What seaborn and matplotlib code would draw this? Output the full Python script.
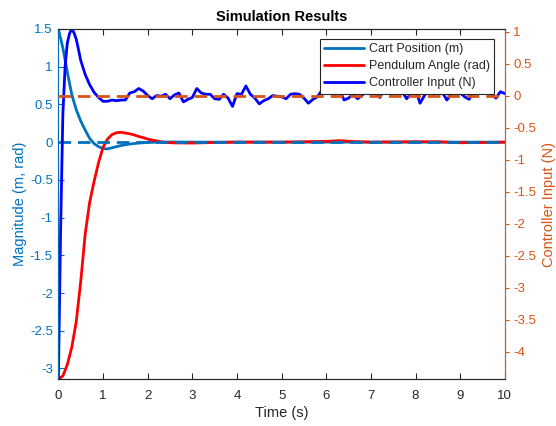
import matplotlib
matplotlib.use("Agg")
import matplotlib.pyplot as plt
import seaborn as sns
import numpy as np
import pandas as pd
from matplotlib.ticker import FuncFormatter

# ---------------- data ----------------
t_cart = [0, 0.1, 0.2, 0.3, 0.4, 0.5, 0.6, 0.7, 0.8, 0.9, 1.0, 1.1, 1.2, 1.3, 1.4,
          1.5, 1.6, 1.8, 2.0, 2.2, 2.5, 3.0, 4.0, 5.0, 6.0, 7.0, 8.0, 9.0, 10.0]
cart_pos = [1.5, 1.25, 0.93, 0.63, 0.43, 0.28, 0.16, 0.05, -0.02, -0.06, -0.085, -0.09,
            -0.075, -0.06, -0.045, -0.035, -0.025, -0.012, -0.005, 0.0, 0.002, 0.0, 0.0,
            0.0, 0.0, 0.0, 0.0, 0.0, 0.0]

t_pend = [0, 0.1, 0.2, 0.3, 0.4, 0.5, 0.6, 0.7, 0.8, 0.9, 1.0, 1.1, 1.2, 1.3, 1.4, 1.5,
          1.6, 1.7, 1.8, 1.9, 2.0, 2.2, 2.4, 2.6, 3.0, 3.5, 4.0, 5.0, 5.5, 6.0, 6.3, 6.6,
          7.0, 8.0, 8.5, 9.0, 9.5, 10.0]
pend_angle = [-3.14, -3.1, -2.95, -2.72, -2.38, -1.85, -1.22, -0.8, -0.52, -0.27, -0.07,
              0.04, 0.1, 0.125, 0.13, 0.12, 0.11, 0.095, 0.075, 0.06, 0.04, 0.015, -0.005,
              -0.01, -0.012, -0.005, 0.0, 0.0, 0.005, 0.01, 0.02, 0.008, 0.0, 0.005, 0.005,
              -0.008, -0.005, 0.0]

t_ctrl = [0, 0.05, 0.1, 0.15, 0.2, 0.25, 0.3, 0.35, 0.4, 0.45,
          0.5, 0.6, 0.7, 0.8, 0.9, 1.0, 1.1, 1.2, 1.3, 1.4, 1.5, 1.6, 1.7, 1.8, 1.9,
          2.0, 2.1, 2.2, 2.3, 2.4, 2.5, 2.6, 2.7, 2.8, 2.9, 3.0, 3.1, 3.2, 3.3, 3.4,
          3.5, 3.6, 3.7, 3.8, 3.9, 4.0, 4.1, 4.2, 4.3, 4.4, 4.5, 4.6, 4.7, 4.8, 4.9,
          5.0, 5.1, 5.2, 5.3, 5.4, 5.5, 5.6, 5.7, 5.8, 5.9, 6.0, 6.1, 6.2, 6.3, 6.4,
          6.5, 6.6, 6.7, 6.8, 6.9, 7.0, 7.1, 7.2, 7.3, 7.4, 7.5, 7.6, 7.7, 7.8, 7.9,
          8.0, 8.1, 8.2, 8.3, 8.4, 8.5, 8.6, 8.7, 8.8, 8.9, 9.0, 9.1, 9.2, 9.3, 9.4,
          9.5, 9.6, 9.7, 9.8, 9.9, 10.0]
ctrl_input = [-4.43, -2.1, -0.3, 0.45, 0.82, 0.97, 1.04, 0.98, 0.88, 0.72,
              0.55, 0.33, 0.17, 0.05, -0.03, -0.09, -0.09, -0.07, -0.08, -0.07, -0.07,
              0.04, 0.06, 0.11, 0.07,
              0.0, -0.05, 0.0, -0.01, 0.02, -0.05, 0.01, 0.04, -0.1, -0.06,
              -0.03, 0.11, 0.04, 0.02, 0.02, -0.05, -0.06, 0.02, -0.04, -0.17,
              0.03, 0.02, 0.15, 0.02, -0.04, -0.13, -0.08, -0.05, 0.0, -0.01,
              -0.02, -0.05, 0.02, 0.03, 0.02, -0.04, -0.12, -0.06, -0.02, 0.08,
              0.15, 0.12, 0.02, 0.08, -0.07, -0.04, 0.02, -0.05, 0.0, 0.08,
              0.02, 0.05, -0.03, 0.1, 0.05, 0.12, 0.04, 0.06, -0.05, 0.03,
              0.09, -0.12, 0.0, 0.1, 0.02, 0.08, 0.05, -0.07, 0.02, 0.1,
              0.04, -0.02, -0.06, 0.08, 0.03, 0.05, 0.09, 0.02, -0.04, 0.06, 0.03]

x_ticks = list(range(0, 11))
left_ticks = [-3, -2.5, -2, -1.5, -1, -0.5, 0, 0.5, 1, 1.5]
right_ticks = [-4, -3.5, -3, -2.5, -2, -1.5, -1, -0.5, 0, 0.5, 1]

# ---------------- style ----------------
sns.set_style("white")
plt.rcParams['font.family'] = ['Liberation Sans', 'DejaVu Sans']
plt.rcParams['axes.unicode_minus'] = False

C_LEFT = '#0072BD'
C_RIGHT = '#D95319'
C_TXT = '#262626'

fig = plt.figure(figsize=(5.56, 4.26), dpi=100)
ax = fig.add_axes([0.105, 0.110, 0.803, 0.822])
ax2 = ax.twinx()

df_cart = pd.DataFrame({'t': t_cart, 'v': cart_pos})
df_pend = pd.DataFrame({'t': t_pend, 'v': pend_angle})
df_ctrl = pd.DataFrame({'t': t_ctrl, 'v': ctrl_input})

sns.lineplot(data=df_cart, x='t', y='v', ax=ax, color=C_LEFT, lw=2, legend=False,
             zorder=2)
sns.lineplot(data=df_pend, x='t', y='v', ax=ax, color='#FF0000', lw=2, legend=False,
             zorder=3)
ax.axhline(0, color=C_LEFT, lw=2, ls=(0, (4.5, 2.5)), zorder=4)

sns.lineplot(data=df_ctrl, x='t', y='v', ax=ax2, color='#0000FF', lw=2, legend=False,
             zorder=2)
ax2.axhline(0, color=C_RIGHT, lw=2, ls=(0, (4.5, 2.5)), zorder=3)

ax.set_xlim(0, 10)
ax.set_ylim(-np.pi, 1.5)
ax2.set_ylim(-4.43, 1.04)

fmt = FuncFormatter(lambda v, p: f"{v:g}")
ax.set_xticks(x_ticks)
ax.set_yticks(left_ticks)
ax2.set_yticks(right_ticks)
ax.xaxis.set_major_formatter(fmt)
ax.yaxis.set_major_formatter(fmt)
ax2.yaxis.set_major_formatter(fmt)

ax.tick_params(axis='x', direction='in', length=4, width=0.8, colors=C_TXT,
               labelsize=9.5, top=True, bottom=True, pad=8)
ax.tick_params(axis='y', direction='in', length=4, width=0.8, colors=C_LEFT,
               labelsize=9.5, left=True, pad=4)
ax2.tick_params(axis='y', direction='out', length=3, width=0.8, colors=C_RIGHT,
                labelsize=9.5, right=True, pad=3)

for a in (ax, ax2):
    a.spines['top'].set_color(C_TXT)
    a.spines['bottom'].set_color(C_TXT)
    a.spines['left'].set_color(C_LEFT)
    a.spines['right'].set_color(C_RIGHT)
    for s in a.spines.values():
        s.set_linewidth(0.8)
        s.set_visible(True)

ax.set_xlabel('Time (s)', fontsize=10.5, color=C_TXT, labelpad=3)
ax.set_ylabel('Magnitude (m, rad)', fontsize=10.5, color=C_LEFT, labelpad=2)
ax2.set_ylabel('Controller Input (N)', fontsize=10.5, color=C_RIGHT, labelpad=4)
ax.set_title('Simulation Results', fontsize=10.5, fontweight='bold', color='black', pad=6)

handles = [ax.get_lines()[0], ax.get_lines()[1], ax2.get_lines()[0]]
labels = ['Cart Position (m)', 'Pendulum Angle (rad)', 'Controller Input (N)']
leg = ax2.legend(handles, labels, loc='upper right',
                 bbox_to_anchor=(494 / 556, 1 - 39 / 426), bbox_transform=fig.transFigure,
                 borderaxespad=0, fontsize=9, frameon=True, fancybox=False,
                 framealpha=1, edgecolor=C_TXT, handlelength=3.2, handletextpad=0.35,
                 labelspacing=0.4, borderpad=0.35)
leg.get_frame().set_linewidth(0.8)
for txt in leg.get_texts():
    txt.set_color(C_TXT)

fig.savefig('out.png', dpi=100)
